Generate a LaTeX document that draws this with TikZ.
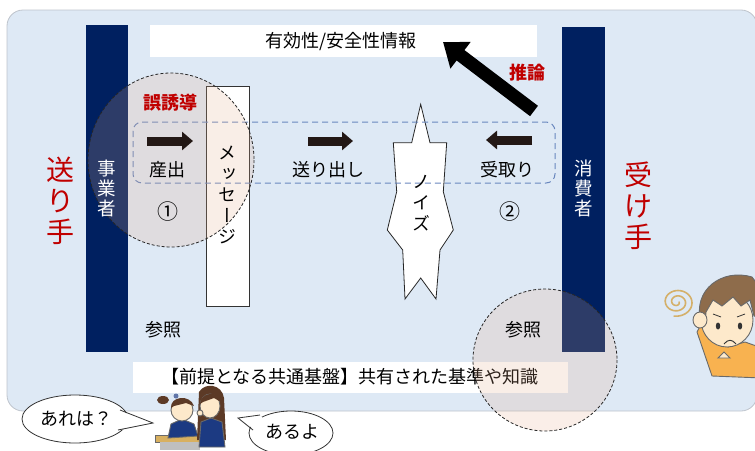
\documentclass[tikz,border=0pt]{standalone}
\usepackage{fontspec}
\setmainfont{Noto Sans CJK JP}
\newfontfamily\jpvert[RawFeature=+vert]{Noto Sans CJK JP}
\usetikzlibrary{arrows.meta}

\definecolor{bgblue}{RGB}{222,233,245}
\definecolor{bgline}{RGB}{190,196,204}
\definecolor{navy}{RGB}{0,32,96}
\definecolor{alertred}{RGB}{192,0,0}
\definecolor{dashblue}{RGB}{105,135,190}
\definecolor{arrowdark}{RGB}{35,24,21}
\definecolor{tint}{RGB}{228,172,139}
\definecolor{skin}{RGB}{253,233,203}
\definecolor{hairbrown}{RGB}{142,108,75}
\definecolor{shirt}{RGB}{248,178,80}
\definecolor{swirl}{RGB}{212,176,106}
\definecolor{outline}{RGB}{105,105,105}
\definecolor{darkhair}{RGB}{92,58,38}
\definecolor{blazer}{RGB}{28,58,130}
\definecolor{desk}{RGB}{216,176,96}

\tikzset{
  bar/.style={fill=navy, draw=none},
  plainbox/.style={fill=white, draw=none},
  txt/.style={inner sep=0, font=\fontsize{18}{22}\selectfont},
  vtxt/.style={inner sep=0, align=center, font=\jpvert\fontsize{18}{21}\selectfont},
  bartxt/.style={inner sep=0, align=center, text=white, font=\fontsize{18.5}{20}\selectfont},
  roletxt/.style={inner sep=0, align=center, text=alertred, font=\fontsize{28}{31}\selectfont},
  redtxt/.style={inner sep=0, text=alertred, font=\fontsize{18}{22}\selectfont\bfseries},
  numtxt/.style={inner sep=0, font=\fontsize{21}{24}\selectfont},
  blockarrow/.style={draw=arrowdark, line width=9pt, -{Triangle[length=11pt,width=18pt]}},
  bigarrow/.style={draw=black, line width=13pt, -{Triangle[length=22pt,width=32pt]}},
  focus/.style={draw=black!85, line width=0.8pt, dash pattern=on 3pt off 2pt, fill=tint, fill opacity=0.2},
  bubble/.style={draw=black!80, line width=0.8pt, fill=white},
  figline/.style={draw=outline, line width=0.9pt}
}

\begin{document}
\begin{tikzpicture}[x=1pt, y=-1pt]
\useasboundingbox (0,0) rectangle (755,450);

% backdrop panel
\draw[fill=bgblue, draw=bgline, line width=0.8pt, rounded corners=16pt] (7,10) rectangle (757,411);

% sender and receiver bars
\fill[bar] (86,25) rectangle (128,352);
\fill[bar] (562,27) rectangle (605,352);

% information box at the top
\fill[plainbox] (150,25) rectangle (537,57);
\node[txt] (info) at (341,42) {有効性/安全性情報};

% message strip
\draw[fill=white, draw=black!80, line width=0.8pt] (206,86) rectangle (249,306);

% noise burst
\draw[fill=white, draw=black!85, line width=0.8pt]
  (420.7,104.3) -- (430,142.7) -- (446.7,142.7) -- (443.3,191.7) -- (453.3,230)
  -- (440,250) -- (436,299) -- (420.7,278) -- (405,299) -- (402.7,250)
  -- (387.3,230) -- (396.7,191.7) -- (393.3,142.7) -- (411.7,142.7) -- cycle;

% transmission band
\draw[draw=dashblue, line width=1pt, dash pattern=on 6pt off 4pt, rounded corners=9pt]
  (133,122) rectangle (555,183);

% shared ground box
\fill[plainbox] (133,362) rectangle (568,393);
\node[txt] (ground) at (350,377) {【前提となる共通基盤】共有された基準や知識};

% highlighted regions
\path[focus] (171,160) ellipse [x radius=83, y radius=87];
\path[focus] (545,360) ellipse [x radius=72, y radius=71];

% labels
\node[roletxt] (sender) at (60,201) {送\\り\\手};
\node[roletxt] (receiver) at (638,206) {受\\け\\手};
\node[bartxt] (biz) at (107,188) {事\\業\\者};
\node[bartxt] (consumer) at (584,188) {消\\費\\者};
\node[vtxt] (msg) at (227,195) {メ\\ッ\\セ\\ー\\ジ};
\node[vtxt] (noise) at (421,203) {ノ\\イ\\ズ};
\node[redtxt] (mislead) at (170,103) {誤誘導};
\node[redtxt] (infer) at (527,73) {推論};
\node[txt] (produce) at (167,170) {産出};
\node[txt] (send) at (328,170) {送り出し};
\node[txt] (receive) at (507,170) {受取り};
\node[numtxt] (one) at (168,212) {①};
\node[numtxt] (two) at (510,212) {②};
\node[txt] (refl) at (163,330) {参照};
\node[txt] (refr) at (523,330) {参照};

% block arrows
\coordinate (pa) at (147,141); \coordinate (pb) at (193,141);
\coordinate (sa) at (308,141); \coordinate (sb) at (353,141);
\coordinate (ra) at (532,140); \coordinate (rb) at (486,140);
\coordinate (ia) at (534,111); \coordinate (ib) at (443,42);
\draw[blockarrow] (pa) -- (pb);
\draw[blockarrow] (sa) -- (sb);
\draw[blockarrow] (ra) -- (rb);
\draw[bigarrow] (ia) -- (ib);

% puzzled receiver
\draw[swirl, line width=1.6pt, line cap=round, domain=0:820, samples=120, variable=\t]
  plot ({677+(2+0.018*\t)*cos(\t)}, {302+(2+0.015*\t)*sin(\t)});
\draw[figline, fill=shirt]
  (712,376) -- (697,332) -- (704,318) -- (716,330) -- (728,347) -- (745,342)
  -- (762,348) -- (762,378) -- cycle;
\draw[figline, fill=skin] (727,320) ellipse [x radius=26, y radius=27];
\draw[figline, fill=hairbrown]
  (701,322) .. controls (692,290) and (722,268) .. (752,277)
  -- (762,290) -- (762,318) -- (754,316) -- (750,300) -- (741,306) -- (733,297)
  -- (722,306) -- (713,300) -- (706,312) -- (705,324) -- cycle;
\draw[figline, fill=skin] (700,320) ellipse [x radius=7, y radius=8];
\fill[black!80] (718,326) ellipse [x radius=2.2, y radius=3.5];
\fill[black!80] (740,326) ellipse [x radius=2.2, y radius=3.5];
\draw[black!80, line width=0.8pt] (713,314) -- (721,317);
\draw[black!80, line width=0.8pt] (737,317) -- (745,314);
\draw[black!80, line width=0.9pt] (724,344) .. controls (728,339) and (732,339) .. (736,344);
\draw[figline, fill=skin] (718,358) -- (724,352) -- (730,358) -- cycle;

% students
\draw[figline, fill=desk] (155,435) rectangle (203,442);
\fill[black!25] (160,442) rectangle (200,450);
\draw[figline, fill=blazer] (168,438) -- (171,424) -- (182,419) -- (194,424) -- (198,436) -- cycle;
\fill[darkhair] (163,400) ellipse [x radius=6, y radius=4];
\draw[figline, fill=skin] (182,410) circle (11);
\fill[darkhair] (171,408) .. controls (170,396) and (190,394) .. (194,406) -- (186,403) -- (174,406) -- cycle;
\fill[blazer!70] (176,396) circle (2.5);
\fill[darkhair] (199,392) .. controls (205,382) and (222,384) .. (224,398) -- (226,440) -- (197,440) -- cycle;
\draw[figline, fill=blazer] (199,447) -- (201,422) -- (211,418) -- (222,422) -- (225,447) -- cycle;
\draw[figline, fill=skin] (210,406) ellipse [x radius=10, y radius=12];
\fill[darkhair] (200,404) .. controls (200,392) and (220,390) .. (221,402) -- (214,398) -- (203,402) -- cycle;
\draw[figline, fill=skin] (200,413) circle (3);

% speech bubbles
\draw[bubble] (75,419) ellipse [x radius=53, y radius=24];
\fill[white] (118,410) -- (153,423) -- (116,431) -- (112,420) -- cycle;
\draw[black!80, line width=0.8pt] (120,410) -- (153,423) -- (118,430);
\node[txt] (ask) at (76,419) {あれは？};
\draw[bubble] (291,433) ellipse [x radius=42, y radius=22];
\fill[white] (262,417) -- (238,418) -- (254,429) -- (262,425) -- cycle;
\draw[black!80, line width=0.8pt] (260,415) -- (238,418) -- (253,430);
\node[txt] (answer) at (292,432) {あるよ};
\end{tikzpicture}
\end{document}
